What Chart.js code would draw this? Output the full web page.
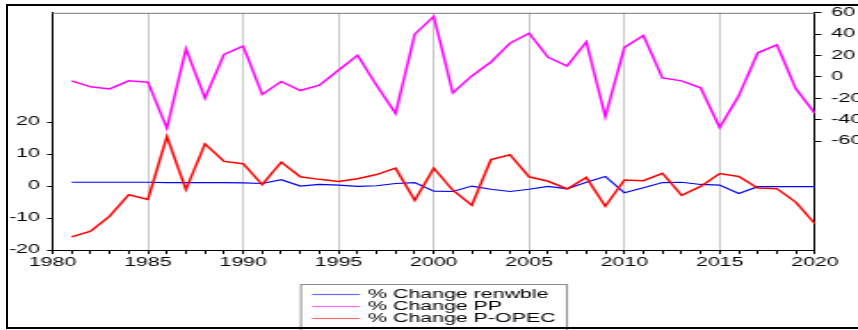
<!DOCTYPE html>
<html>
<head>
<meta charset="utf-8">
<script src="https://cdn.jsdelivr.net/npm/chart.js@4.4.0/dist/chart.umd.min.js"></script>
<style>
  html, body { margin: 0; padding: 0; background: #fff; }
  #wrap { position: relative; width: 858px; height: 330px; overflow: hidden; }
  #stretch { position: absolute; left: 0; top: 0; height: 330px; transform-origin: 0 0; }
  #frame { position: absolute; left: 6px; top: 4px; width: 900px; height: 321px;
           border: 2px solid #000; border-right: none; pointer-events: none; }
</style>
</head>
<body>
<div id="wrap">
  <div id="stretch"><canvas id="chart"></canvas></div>
  <div id="frame"></div>
</div>
<script>
// Aarlige procentvise aendringer 1981-2020
const years = [1981, 1982, 1983, 1984, 1985, 1986, 1987, 1988, 1989, 1990,
               1991, 1992, 1993, 1994, 1995, 1996, 1997, 1998, 1999, 2000,
               2001, 2002, 2003, 2004, 2005, 2006, 2007, 2008, 2009, 2010,
               2011, 2012, 2013, 2014, 2015, 2016, 2017, 2018, 2019, 2020];

const renwble = [1.2, 1.2, 1.2, 1.2, 1.2, 1.1, 1.1, 1.1, 1.1, 1.0,
                 0.8, 2.0, 0.0, 0.5, 0.3, -0.1, 0.1, 0.8, 1.1, -1.6,
                 -1.7, 0.0, -1.0, -1.7, -1.0, -0.1, -0.9, 1.2, 3.0, -2.1,
                 -0.5, 1.1, 1.2, 0.5, 0.3, -2.3, -0.2, -0.2, -0.2, -0.2];

const pp = [-3.7, -9.3, -11.2, -3.7, -4.9, -48, 26.3, -19.8, 21.1, 28.8,
            -16.4, -4.3, -12.7, -7.7, 6.2, 20.2, -7.7, -34.1, 40, 56.7,
            -14.9, 0.9, 14, 31.6, 40.9, 18.3, 10.2, 32.8, -37.2, 27.6,
            38.8, -0.9, -3.7, -10.2, -47.4, -17.7, 22.6, 30, -11.2, -34.1];

const popec = [-15.9, -14.1, -9.4, -2.7, -4.2, 15.5, -1.1, 13.2, 7.7, 7.0,
               0.5, 7.5, 2.9, 2.1, 1.4, 2.3, 3.6, 5.6, -4.5, 5.6,
               -1.3, -6.0, 8.3, 9.8, 2.9, 1.5, -0.9, 2.7, -6.3, 1.9,
               1.7, 4.0, -2.9, -0.1, 3.9, 3.0, -0.6, -0.8, -5.1, -11.8];

// akseinddeling
const xTicks = [1980, 1981, 1982, 1983, 1984, 1985, 1986, 1987, 1988, 1989, 1990,
                1991, 1992, 1993, 1994, 1995, 1996, 1997, 1998, 1999, 2000,
                2001, 2002, 2003, 2004, 2005, 2006, 2007, 2008, 2009, 2010,
                2011, 2012, 2013, 2014, 2015, 2016, 2017, 2018, 2019, 2020];
const leftTicks = [-20, -10, 0, 10, 20];
const rightTicks = [-60, -40, -20, 0, 20, 40, 60];

const seriesNames = ['% Change renwble', '% Change PP', '% Change P-OPEC'];

// grafen tegnes smal og trækkes ud i bredden
const S = 1.78;
const W = 858 / S;
const box = document.getElementById('stretch');
box.style.width = W + 'px';
box.style.transform = `scaleX(${S})`;

const font = { family: "'Liberation Sans', Arial, sans-serif", size: 12 };
const pts = vals => years.map((y, i) => ({ x: y, y: vals[i] }));

// tynd graa kant langs toppen af plotomraadet
const topBorder = {
    id: 'topBorder',
    afterDraw(chart) {
        const { ctx, chartArea: a } = chart;
        ctx.save();
        ctx.strokeStyle = '#7a7a7a';
        ctx.lineWidth = 1;
        ctx.beginPath();
        ctx.moveTo(a.left, a.top + 0.5);
        ctx.lineTo(a.right, a.top + 0.5);
        ctx.stroke();
        ctx.restore();
    }
};

// forklaring i en ramme under x-aksen
const boxLegend = {
    id: 'boxLegend',
    afterDraw(chart) {
        const ctx = chart.ctx;
        const colors = ['#6a6aff', '#ff6aff', '#ff6a6a'];
        ctx.save();
        ctx.strokeStyle = '#8a8a8a';
        ctx.lineWidth = 1;
        ctx.strokeRect(301 / S, 284.5, (567 - 301) / S, 60);
        ctx.font = `${font.size}px ${font.family}`;
        ctx.textBaseline = 'middle';
        seriesNames.forEach((name, i) => {
            const y = 294 + i * 12;
            ctx.strokeStyle = colors[i];
            ctx.lineWidth = 1.2;
            ctx.beginPath();
            ctx.moveTo(312 / S, y + 0.5);
            ctx.lineTo(360 / S, y + 0.5);
            ctx.stroke();
            ctx.fillStyle = '#000';
            ctx.fillText(name, 368 / S, y + 1);
        });
        ctx.restore();
    }
};

new Chart(document.getElementById('chart'), {
    type: 'line',
    data: {
        datasets: [
            { label: seriesNames[0], data: pts(renwble), borderColor: '#0000ff', borderWidth: 1.2, yAxisID: 'y', order: 3 },
            { label: seriesNames[1], data: pts(pp), borderColor: '#ff00ff', borderWidth: 1.5, yAxisID: 'y1', order: 2 },
            { label: seriesNames[2], data: pts(popec), borderColor: '#ff0000', borderWidth: 1.5, yAxisID: 'y', order: 1 }
        ]
    },
    options: {
        responsive: true,
        maintainAspectRatio: false,
        animation: false,
        elements: { point: { radius: 0 }, line: { tension: 0 } },
        layout: { padding: { top: 12.5, left: 0, right: 0, bottom: 60 } },
        plugins: { legend: { display: false }, tooltip: { enabled: false } },
        scales: {
            x: {
                type: 'linear',
                min: 1980,
                max: 2020,
                afterBuildTicks: s => { s.ticks = xTicks.map(v => ({ value: v })); },
                afterFit: s => { s.height = 20; },
                grid: {
                    color: c => (c.tick && c.tick.value % 5 === 0 && c.tick.value > 1980 && c.tick.value < 2020)
                        ? '#c8c8c8' : 'rgba(0,0,0,0)',
                    tickColor: '#000',
                    tickLength: 4
                },
                border: { color: '#000', width: 1 },
                ticks: {
                    font,
                    color: '#000',
                    padding: 1,
                    autoSkip: false,
                    maxRotation: 0,
                    minRotation: 0,
                    callback: v => (v % 5 === 0 ? String(v) : '')
                }
            },
            y: {
                position: 'left',
                min: -20,
                max: 54.2,
                afterBuildTicks: s => { s.ticks = leftTicks.map(v => ({ value: v })); },
                afterFit: s => { s.width = 52.5 / S; },
                grid: { drawOnChartArea: false, color: '#000', tickLength: 5.5 / S },
                border: { color: '#000', width: 1 },
                ticks: { font, color: '#000', padding: 7 / S }
            },
            y1: {
                position: 'right',
                min: -162,
                max: 60,
                afterBuildTicks: s => { s.ticks = rightTicks.map(v => ({ value: v })); },
                afterFit: s => { s.width = 43 / S; },
                grid: { drawOnChartArea: false, color: '#000', tickLength: 6.5 / S },
                border: { color: '#000', width: 1 },
                ticks: { font, color: '#000', padding: 10 / S }
            }
        }
    },
    plugins: [topBorder, boxLegend]
});
</script>
</body>
</html>
